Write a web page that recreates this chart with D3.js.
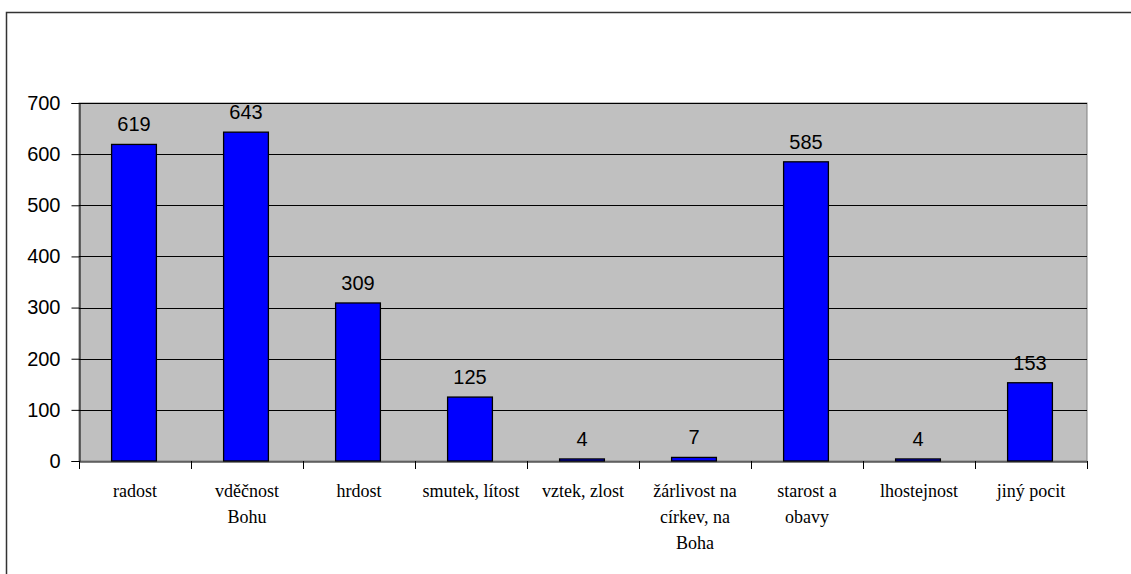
<!DOCTYPE html>
<html><head><meta charset="utf-8">
<script src="https://cdn.jsdelivr.net/npm/d3@7"></script>
<style>body{margin:0;background:#fff;overflow:hidden}svg{display:block}
.cat{font-family:"Liberation Serif","Times New Roman",serif;font-size:18px}
.num{font-family:"Liberation Sans",Arial,sans-serif;font-size:20px}
</style>
</head><body>
<svg id="c" width="1131" height="574"></svg>
<script>
const categories = ["radost","vděčnost Bohu","hrdost","smutek, lítost","vztek, zlost","žárlivost na církev, na Boha","starost a obavy","lhostejnost","jiný pocit"];
const categoryLines = [["radost"],["vděčnost","Bohu"],["hrdost"],["smutek, lítost"],["vztek, zlost"],["žárlivost na","církev, na","Boha"],["starost a","obavy"],["lhostejnost"],["jiný pocit"]];
const values = [619,643,309,125,4,7,585,4,153];
const yTicks = [0,100,200,300,400,500,600,700];

const svg = d3.select("#c");
const L=79, R=1087, T=103, B=461;
// outer frame
svg.append("rect").attr("x",6.5).attr("y",12.5).attr("width",1200).attr("height",800)
  .attr("fill","#fff").attr("stroke","#333").attr("stroke-width",1.5);

const x = d3.scaleBand().domain(categories).range([L,R]).paddingInner(0.6).paddingOuter(0.3);
const xb = d3.scaleBand().domain(categories).range([L,R]);
const y = d3.scaleLinear().domain([0,700]).range([B,T]);

svg.append("rect").attr("x",L).attr("y",T).attr("width",R-L).attr("height",B-T)
  .attr("fill","#c0c0c0").attr("stroke","#808080").attr("stroke-width",1);

// gridlines
svg.append("g").selectAll("line").data(yTicks.filter(d=>d>0)).join("line")
  .attr("x1",L).attr("x2",R).attr("y1",d=>Math.round(y(d))+0.5).attr("y2",d=>Math.round(y(d))+0.5)
  .attr("stroke","#000").attr("stroke-width",1);

// y axis
const ya = svg.append("g").attr("transform",`translate(${L+0.5},0)`)
  .call(d3.axisLeft(y).tickValues(yTicks).tickSize(8).tickPadding(11).tickFormat(d3.format("d")));
ya.attr("font-family",null).attr("font-size",null);
ya.select(".domain").attr("stroke","#000");
ya.selectAll(".tick line").attr("stroke","#000");
ya.selectAll("text").attr("class","num").attr("fill","#000");

// bars
svg.append("g").selectAll("rect").data(values).join("rect")
  .attr("x",(d,i)=>x(categories[i])-1).attr("width",x.bandwidth())
  .attr("y",d=>y(d)).attr("height",d=>B-y(d))
  .attr("fill","#0000ff").attr("stroke","#000").attr("stroke-width",1.3);

// x axis
const xa = svg.append("g").attr("transform",`translate(0,${B+0.5})`)
  .call(d3.axisBottom(xb).tickSize(0).tickFormat(""));
xa.select(".domain").attr("stroke","#000");
xa.selectAll(".tick").remove();
svg.append("g").selectAll("line").data(d3.range(categories.length+1)).join("line")
  .attr("x1",i=>Math.round(L+i*xb.step())+0.5).attr("x2",i=>Math.round(L+i*xb.step())+0.5)
  .attr("y1",B).attr("y2",B+8).attr("stroke","#000");

// category labels
const cl = svg.append("g").selectAll("text").data(categoryLines).join("text")
  .attr("class","cat")
  .attr("x",(d,i)=>xb(categories[i])+xb.bandwidth()/2)
  .attr("y",497).attr("text-anchor","middle").attr("fill","#000");
cl.each(function(lines){
  const t=d3.select(this);
  lines.forEach((s,j)=>t.append("tspan").attr("x",t.attr("x")).attr("dy",j===0?0:26).text(s));
});

// value labels
svg.append("g").selectAll("text").data(values).join("text")
  .attr("class","num")
  .attr("x",(d,i)=>x(categories[i])+x.bandwidth()/2-1)
  .attr("y",d=>y(d)-13).attr("text-anchor","middle").attr("fill","#000")
  .text(d=>d);
</script>
</body></html>
